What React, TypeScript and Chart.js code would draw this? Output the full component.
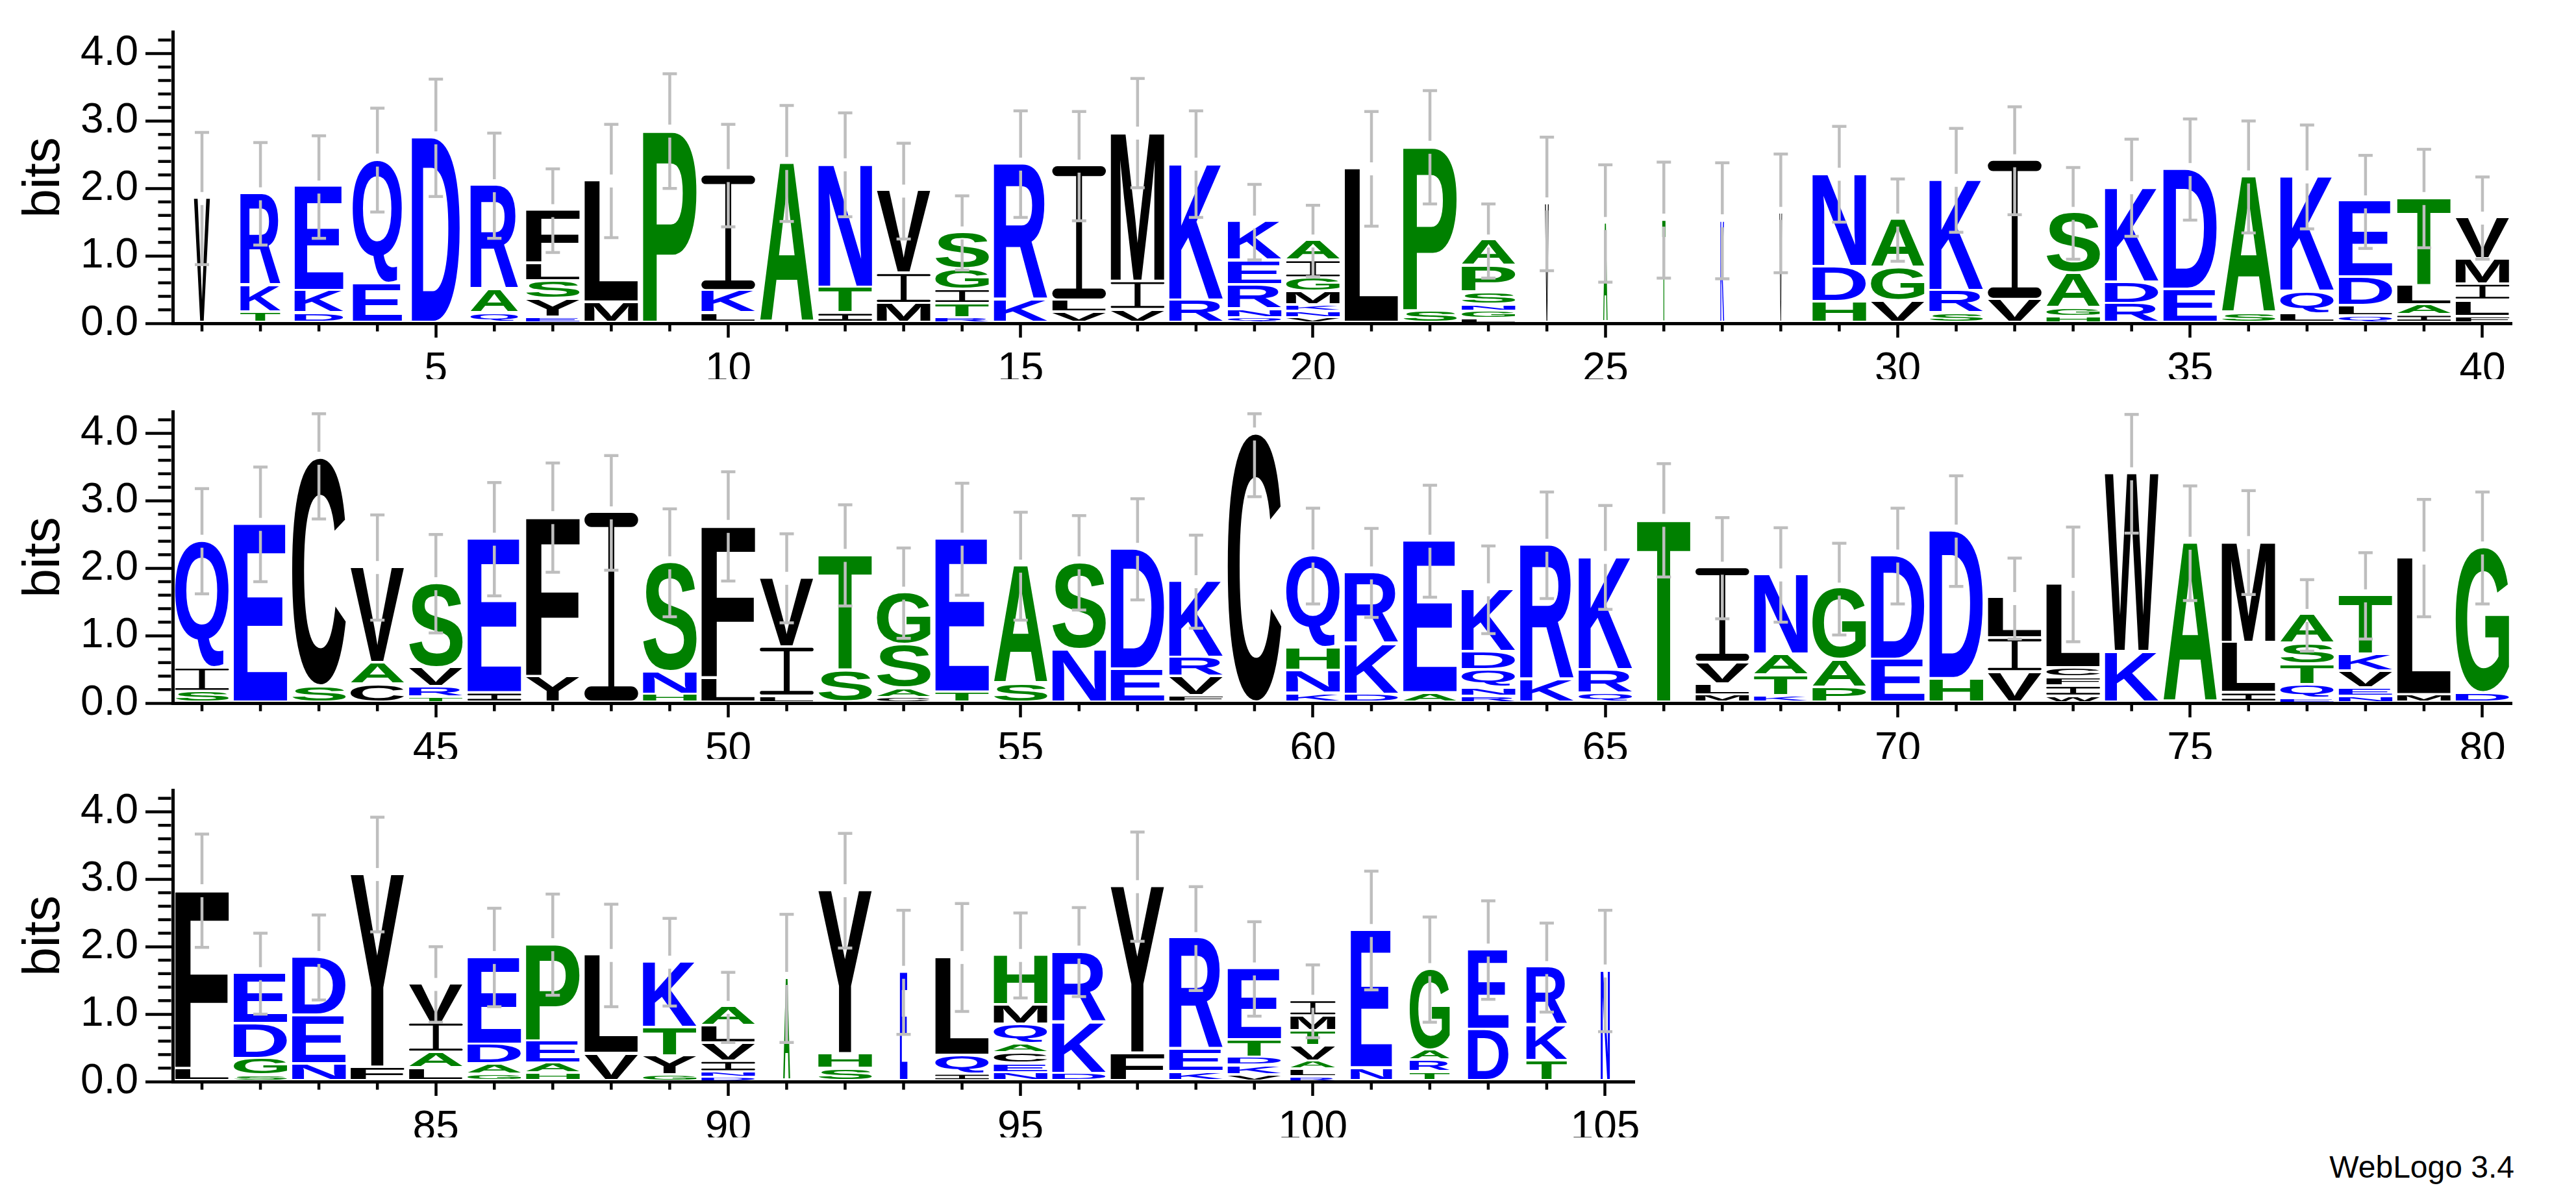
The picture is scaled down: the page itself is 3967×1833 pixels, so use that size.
import React, { useEffect, useRef } from 'react';
import { Chart, registerables } from 'chart.js';

Chart.register(...registerables);

// ---------------- data ----------------
// Each stack: letters from bottom to top, "<letter><height in bits>"
const row1Stacks: string[] = [
  'V1.85', 'T.15 K.40 R1.37', 'D.14 K.33 E1.55', 'E.58 Q1.84', 'D2.75',
  'Q.14 A.35 R1.55', 'E.08 Y.27 S.27 L.26 F.79', 'M.30 L1.81', 'P2.85', 'L.14 K.33 I1.72',
  'A2.37', 'I.14 T.38 N1.83', 'M.28 I.45 V1.23', 'R.07 T.21 I.21 G.30 S.55', 'K.33 R2.03',
  'V.15 L.18 I2.00', 'V.19 I.42 M2.21', 'R.33 K2.03', 'Q.07 N.13 R.36 E.36 K.58', 'V.07 N.10 K.09 M.20 G.20 I.26 A.30',
  'L2.29', 'S.17 P2.44', 'L.06 G.11 N.10 S.18 P.39 A.38', 'V1.77', 'A1.48',
  'T1.53', 'K1.52', 'V1.63', 'H.31 D.52 N1.38', 'V.32 G.49 A.72',
  'S.14 R.33 K1.65', 'V.34 I2.07', 'H.09 G.13 A.51 S.90', 'R.28 D.32 K1.41', 'E.49 D1.79',
  'S.14 A2.03', 'L.13 Q.33 K1.71', 'Q.10 L.15 D.42 E1.13', 'I.11 A.15 L.29 T1.30', 'F.09 L.24 I.24 M.37 V.62',
];
const row1Err: number[] = [
  .98, .76, .76, .77, .87, .78, .62, .84, .85, .76,
  .86, .77, .71, .55, .79, .81, .81, .79, .56, .53,
  .85, .84, .55, .99, .87, .86, .86, .88, .71, .61,
  .77, .80, .68, .72, .75, .83, .77, .69, .73, .61,
];
const row1Width: number[] = [
  .30, .75, .91, .92, .90, .89, 1, 1, 1, 1,
  1, 1, 1, 1, 1, 1, 1, 1, 1, 1,
  1, 1, 1, .07, .08, .06, .07, .05, 1, 1,
  1, 1, 1, 1, 1, 1, 1, 1, 1, 1,
];

const row2Stacks: string[] = [
  'S.16 I.35 Q1.89', 'E2.65', 'S.24 C3.39', 'C.27 A.32 V1.42', 'T.08 R.15 V.28 S1.26',
  'I.14 E2.29', 'Y.38 F2.37', 'I2.82', 'H.12 N.33 S1.63', 'L.36 F2.26',
  'L.09 I.73 V1.03', 'S.47 T1.72', 'C.07 A.14 S.65 G.77', 'T.15 E2.28', 'S.28 A1.75',
  'N.78 S1.30', 'E.49 D1.79', 'F.10 V.28 R.28 K1.14', 'C3.99', 'K.13 N.34 H.34 Q1.37',
  'D.12 K.75 R1.06', 'A.14 E2.26', 'R.09 N.13 Q.26 D.27 K.93', 'K.33 R2.01', 'Q.13 R.35 K1.68',
  'T2.71', 'M.11 L.16 V.32 I1.41', 'K.10 T.30 A.31 N1.19', 'P.22 A.41 G1.06', 'E.64 D1.54',
  'H.35 D2.20', 'V.45 I.50 L.60', 'W.09 I.15 F.13 C.14 L1.25', 'K.75 W2.65', 'A2.37',
  'I.14 L.75 M1.49', 'E.06 Q.20 T.30 S.31 A.43', 'N.09 E.12 V.25 K.25 T.88', 'M.11 L2.04', 'D.14 G2.16',
];
const row2Err: number[] = [
  .78, .85, .90, .78, .73, .84, .81, .85, .80, .81,
  .66, .75, .67, .83, .80, .70, .75, .69, .93, .71,
  .66, .83, .65, .79, .77, .84, .75, .70, .68, .71,
  .82, .60, .85, .88, .85, .77, .53, .64, .87, .83,
];
const row2Width: number[] = new Array(40).fill(1);

const row3Stacks: string[] = [
  'L.18 F2.65', 'S.08 G.25 D.52 E.75', 'N.25 E.72 D.87', 'F.20 Y2.87', 'L.19 A.23 I.44 V.58',
  'G.10 A.15 D.29 E1.30', 'H.11 A.15 E.33 P1.44', 'V.40 L1.47', 'G.09 Y.28 T.42 K.98', 'D.06 N.07 I.16 V.27 L.26 A.28',
  'A1.53', 'S.18 H.22 Y2.43', 'E1.62', 'I.10 Q.28 L1.46', 'N.12 E.14 C.15 A.14 Q.29 M.29 H.74',
  'D.11 K.76 R1.05', 'F.41 Y2.48', 'K.13 E.33 R1.66', 'V.09 K.14 D.12 T.26 E1.06', 'R.06 L.11 A.12 V.23 T.22 M.22 I.23',
  'N.19 E2.05', 'T.13 R.18 A.15 G1.20', 'D.76 E1.19', 'T.30 K.52 R.87', 'N1.64',
];
const row3Err: number[] = [
  .84, .60, .63, .85, .56, .73, .75, .76, .65, .52,
  .95, .85, .92, .80, .63, .66, .81, .77, .70, .54,
  .88, .78, .73, .66, .90,
];
const row3Width: number[] = [
  1, 1, 1, 1, 1, 1, 1, 1, 1, 1,
  .13, 1, .14, 1, 1, 1, 1, 1, 1, .84,
  .77, .75, .76, .76, .17,
];

const row1Ticks = [5, 10, 15, 20, 25, 30, 35, 40];
const row2Ticks = [45, 50, 55, 60, 65, 70, 75, 80];
const row3Ticks = [85, 90, 95, 100, 105];
const yTicks = [0, 1, 2, 3, 4];
const Y_MAX = Math.log2(20);

// ---------------- styles ----------------
const FONT = '"Liberation Sans", Arial, Helvetica, sans-serif';
const BLUE = '#0000FF';
const GREEN = '#008000';
const BLACK = '#000000';
const GRAY = '#BEBEBE';
const LETTER_W = 0.917;

function colorOf(ch: string): string {
  if ('RKDENQ'.includes(ch)) return BLUE;
  if ('SGHTAP'.includes(ch)) return GREEN;
  return BLACK;
}

function parseStack(s: string) {
  return s.split(' ').map((tok) => ({ ch: tok[0], h: parseFloat(tok.slice(1)) }));
}

const GLYPH_FONT = `bold 200px ${FONT}`;

function drawSerifI(ctx: CanvasRenderingContext2D, color: string,
  x0: number, x1: number, y0: number, y1: number) {
  const W = x1 - x0;
  const H = y1 - y0;
  const bar = Math.max(H * 0.075, Math.min(2.5, H * 0.25));
  const stem = Math.max(W * 0.11, 1);
  const r = Math.min(bar / 2, W / 2);
  ctx.save();
  ctx.fillStyle = color;
  ctx.beginPath();
  (ctx as any).roundRect(x0, y0, W, bar, r);
  ctx.fill();
  ctx.beginPath();
  (ctx as any).roundRect(x0, y1 - bar, W, bar, r);
  ctx.fill();
  ctx.fillRect(x0 + W / 2 - stem / 2, y0 + bar / 2, stem, H - bar);
  ctx.restore();
}

function drawGlyph(ctx: CanvasRenderingContext2D, ch: string, color: string,
  x0: number, x1: number, y0: number, y1: number) {
  if (x1 - x0 < 0.3 || y1 - y0 < 0.3) return;
  if (ch === 'I') { drawSerifI(ctx, color, x0, x1, y0, y1); return; }
  ctx.save();
  ctx.font = GLYPH_FONT;
  ctx.textAlign = 'left';
  ctx.textBaseline = 'alphabetic';
  const m = ctx.measureText(ch);
  const gw = m.actualBoundingBoxLeft + m.actualBoundingBoxRight;
  const gh = m.actualBoundingBoxAscent + m.actualBoundingBoxDescent;
  ctx.translate(x0, y0);
  ctx.scale((x1 - x0) / gw, (y1 - y0) / gh);
  ctx.fillStyle = color;
  ctx.fillText(ch, m.actualBoundingBoxLeft, m.actualBoundingBoxAscent);
  ctx.restore();
}

function line(ctx: CanvasRenderingContext2D, x1: number, y1: number, x2: number, y2: number) {
  ctx.beginPath();
  ctx.moveTo(x1, y1);
  ctx.lineTo(x2, y2);
  ctx.stroke();
}

const logoPlugin = {
  id: 'logo',
  afterDatasetsDraw(chart: any, _args: any, opts: any) {
    const { stacks, err, widths, first } = opts;
    const xs = chart.scales.x;
    const ys = chart.scales.y;
    const ctx: CanvasRenderingContext2D = chart.ctx;
    stacks.forEach((s: string, i: number) => {
      const pos = first + i;
      const w = LETTER_W * widths[i];
      const xl = xs.getPixelForValue(pos - w / 2);
      const xr = xs.getPixelForValue(pos + w / 2);
      let base = 0;
      for (const { ch, h } of parseStack(s)) {
        const yb = ys.getPixelForValue(base);
        const yt = ys.getPixelForValue(base + h);
        const gap = Math.min(4, (yb - yt) * 0.35);
        drawGlyph(ctx, ch, colorOf(ch), xl, xr, yt, yb - gap);
        base += h;
      }
      // error bar
      const e = err[i];
      const top = Math.min(base + e, 4.29);
      const bot = Math.max(base - e, 0);
      const px = xs.getPixelForValue(pos);
      const yTop = ys.getPixelForValue(top);
      const yH = ys.getPixelForValue(base);
      const yBot = ys.getPixelForValue(bot);
      ctx.save();
      ctx.strokeStyle = GRAY;
      ctx.lineWidth = 4.5;
      ctx.lineCap = 'butt';
      line(ctx, px, yTop, px, yH - 10);
      line(ctx, px, yH + 10, px, yBot);
      line(ctx, px - 11, yTop, px + 11, yTop);
      line(ctx, px - 11, yBot, px + 11, yBot);
      ctx.restore();
    });
  },
  afterDraw(chart: any, _args: any, opts: any) {
    const { first, last } = opts;
    const { ctx, chartArea } = chart;
    const xs = chart.scales.x;
    const ys = chart.scales.y;
    ctx.save();
    ctx.strokeStyle = BLACK;
    ctx.lineWidth = 4.5;
    for (let k = 1; k <= 21; k++) {
      if (k % 5 === 0) continue;
      const y = ys.getPixelForValue(k * 0.2);
      line(ctx, chartArea.left - 2.5 - 20, y, chartArea.left - 2.5, y);
    }
    for (let p = first; p <= last; p++) {
      if (p % 5 === 0) continue;
      const x = xs.getPixelForValue(p);
      line(ctx, x, chartArea.bottom + 2.5, x, chartArea.bottom + 2.5 + 10);
    }
    ctx.restore();
  },
};

const ROWS = [
  { stacks: row1Stacks, err: row1Err, widths: row1Width, ticks: row1Ticks, first: 1, last: 40, top: 0, padRight: 99 },
  { stacks: row2Stacks, err: row2Err, widths: row2Width, ticks: row2Ticks, first: 41, last: 80, top: 585, padRight: 99 },
  { stacks: row3Stacks, err: row3Err, widths: row3Width, ticks: row3Ticks, first: 81, last: 105, top: 1168, padRight: 1450 },
];

const CANVAS_W = 3967;
const CANVAS_H = 584;

function LogoRow({ row }: { row: typeof ROWS[number] }) {
  const ref = useRef<HTMLCanvasElement>(null);
  useEffect(() => {
    const totals = row.stacks.map((s, i) => ({
      x: row.first + i,
      y: parseStack(s).reduce((a, b) => a + b.h, 0),
    }));
    const chart = new Chart(ref.current as HTMLCanvasElement, {
      type: 'scatter',
      data: { datasets: [{ data: totals, pointRadius: 0, showLine: false }] },
      options: {
        responsive: false,
        animation: false,
        devicePixelRatio: 1,
        layout: { padding: { left: 0, right: row.padRight, top: 49, bottom: 0 } },
        plugins: {
          legend: { display: false },
          tooltip: { enabled: false },
          logo: { stacks: row.stacks, err: row.err, widths: row.widths, first: row.first, last: row.last },
        } as any,
        scales: {
          x: {
            type: 'linear',
            position: 'bottom',
            min: row.first - 0.5,
            max: row.last + 0.5,
            afterFit: (s: any) => { s.height = 86; s.paddingLeft = 0; s.paddingRight = 0; },
            afterBuildTicks: (s: any) => { s.ticks = row.ticks.map((v) => ({ value: v })); },
            grid: { drawOnChartArea: false, drawTicks: true, tickLength: 22, tickWidth: 4.5, color: BLACK, tickColor: BLACK },
            border: { display: true, color: BLACK, width: 5, z: 1 },
            ticks: {
              color: BLACK, font: { family: FONT, size: 64 }, padding: 12,
              maxRotation: 0, autoSkip: false, callback: (v: any) => String(v),
            },
          },
          y: {
            type: 'linear',
            position: 'left',
            min: 0,
            max: Y_MAX,
            afterFit: (s: any) => { s.width = 266; s.paddingTop = 0; s.paddingBottom = 0; },
            afterBuildTicks: (s: any) => { s.ticks = yTicks.map((v) => ({ value: v })); },
            grid: { drawOnChartArea: false, drawTicks: true, tickLength: 42, tickWidth: 4.5, color: BLACK, tickColor: BLACK },
            border: { display: true, color: BLACK, width: 5, z: 1 },
            ticks: {
              color: BLACK, font: { family: FONT, size: 64 }, padding: 11,
              callback: (v: any) => Number(v).toFixed(1),
            },
            title: {
              display: true, text: 'bits', color: BLACK,
              font: { family: FONT, size: 80 }, padding: { top: 21, bottom: 0 },
            },
          },
        },
      } as any,
      plugins: [logoPlugin as any],
    });
    return () => chart.destroy();
  }, [row]);
  return (
    <canvas
      ref={ref}
      width={CANVAS_W}
      height={CANVAS_H}
      style={{ position: 'absolute', left: 0, top: row.top, width: CANVAS_W, height: CANVAS_H, display: 'block' }}
    />
  );
}

export default function App() {
  return (
    <div style={{ position: 'absolute', left: 0, top: 0, width: 3967, height: 1833, background: '#ffffff', overflow: 'hidden' }}>
      {ROWS.map((row, i) => <LogoRow key={i} row={row} />)}
      <div
        style={{
          position: 'absolute', right: 95, top: 1774, fontFamily: FONT, fontSize: 48,
          color: '#000', whiteSpace: 'nowrap', lineHeight: 1,
        }}
      >
        WebLogo 3.4
      </div>
    </div>
  );
}
